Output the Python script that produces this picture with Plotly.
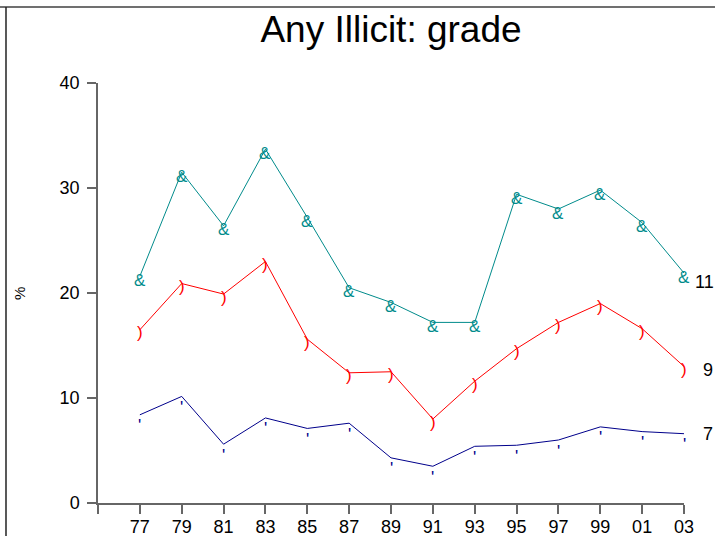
import plotly.graph_objects as go

years = [1977, 1979, 1981, 1983, 1985, 1987, 1989, 1991, 1993, 1995, 1997, 1999, 2001, 2003]
grade11 = [21.6, 31.5, 26.4, 33.7, 27.2, 20.5, 19.1, 17.2, 17.2, 29.4, 28.0, 29.8, 26.7, 21.9]
grade9 = [16.5, 20.9, 19.9, 23.0, 15.6, 12.4, 12.5, 8.0, 11.6, 14.7, 17.2, 19.0, 16.6, 13.0]
grade7 = [8.4, 10.15, 5.6, 8.1, 7.1, 7.6, 4.3, 3.5, 5.4, 5.5, 6.0, 7.25, 6.8, 6.6]

tick_vals = [1975, 1977, 1979, 1981, 1983, 1985, 1987, 1989, 1991, 1993, 1995, 1997, 1999, 2001, 2003]
tick_text = ["", "77", "79", "81", "83", "85", "87", "89", "91", "93", "95", "97", "99", "01", "03"]
y_ticks = [0, 10, 20, 30, 40]

# name, values, colour, marker glyph, glyph yshift, label xshift, label yshift
series = [
    ("11", grade11, "#008B8B", "&", -4, 20, -9),
    ("9", grade9, "#FF0000", ")", -3, 24, -3),
    ("7", grade7, "#00008B", "'", -11, 24, 0),
]

FONT = "Liberation Sans, Arial, sans-serif"

fig = go.Figure()
for name, vals, color, sym, gshift, lxshift, lshift in series:
    fig.add_trace(go.Scatter(
        x=years, y=vals, mode="lines", name=name,
        line=dict(color=color, width=1),
        cliponaxis=False, showlegend=False, hoverinfo="skip",
    ))
    for xv, yv in zip(years, vals):
        fig.add_annotation(x=xv, y=yv, text=sym, showarrow=False,
                           xanchor="center", yanchor="middle", yshift=gshift,
                           font=dict(family=FONT, size=17, color=color))
    fig.add_annotation(x=years[-1], y=vals[-1], text=name, showarrow=False,
                       xanchor="center", yanchor="middle", xshift=lxshift, yshift=lshift,
                       font=dict(family=FONT, size=18, color="black"))

fig.add_annotation(x=-0.135, y=0.5, xref="paper", yref="paper", text="%",
                   textangle=-90, showarrow=False, xanchor="center", yanchor="middle",
                   font=dict(family=FONT, size=15, color="black"))

# figure frame
fig.add_shape(type="line", xref="paper", yref="paper", x0=-0.2, x1=1.2, y0=1.181, y1=1.181,
              line=dict(color="#707070", width=2))
fig.add_shape(type="line", xref="paper", yref="paper", x0=-0.157, x1=-0.157, y0=-0.2, y1=1.181,
              line=dict(color="#222222", width=1.5))

fig.update_layout(
    width=715, height=536,
    margin=dict(l=98, r=31, t=83, b=33, autoexpand=False),
    paper_bgcolor="white", plot_bgcolor="white",
    title=dict(text="Any Illicit: grade", x=0.5, xref="paper", xanchor="center",
               y=1 - 29.5 / 536, yref="container", yanchor="middle",
               font=dict(family=FONT, size=37, color="black")),
    font=dict(family=FONT, size=18, color="black"),
    xaxis=dict(range=[1975, 2003], tickvals=tick_vals, ticktext=tick_text, automargin=False,
               showgrid=False, zeroline=False, showline=True, linecolor="#666666", linewidth=1.5,
               ticks="outside", ticklen=9, tickcolor="#666666", tickwidth=1.5,
               ticklabelstandoff=-2,
               tickfont=dict(family=FONT, size=18, color="black")),
    yaxis=dict(range=[0, 40], tickvals=y_ticks, automargin=False, showgrid=False, zeroline=False,
               showline=True, linecolor="#666666", linewidth=1.5,
               ticks="outside", ticklen=9, tickcolor="#666666", tickwidth=1.5,
               ticklabelstandoff=4,
               tickfont=dict(family=FONT, size=18, color="black")),
)

fig.write_html("out.html", config={"displayModeBar": False},
               post_script="document.body.style.margin='0';")
